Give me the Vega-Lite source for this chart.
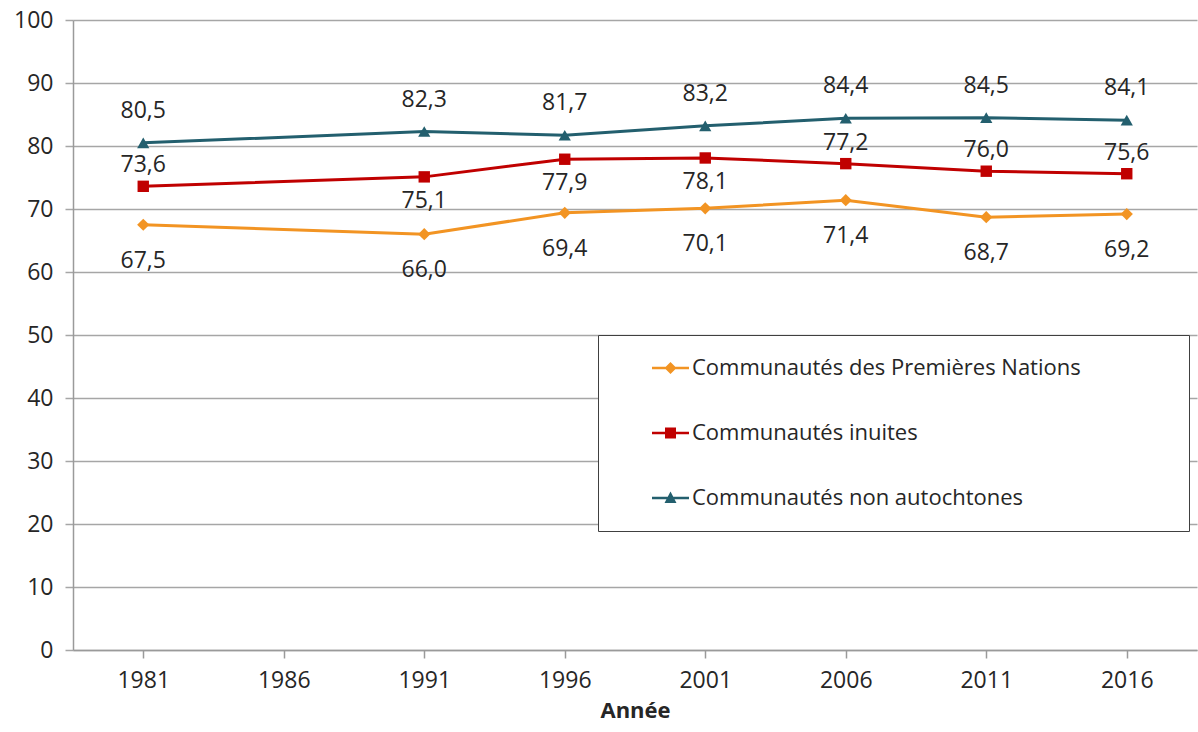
{
  "$schema": "https://vega.github.io/schema/vega-lite/v6.json",
  "width": 1124,
  "height": 630,
  "autosize": {"type": "none"},
  "padding": {"left": 73, "top": 20, "right": 1, "bottom": 82},
  "background": "white",
  "config": {
    "view": {"stroke": null},
    "font": "Open Sans",
    "locale": {"number": {"decimal": ",", "thousands": "\u00a0", "grouping": [3], "currency": ["", " €"]}}
  },
  "data": {
    "values": [
      {"year": 1981, "series": "Communautés des Premières Nations", "value": 67.5},
      {"year": 1991, "series": "Communautés des Premières Nations", "value": 66.0},
      {"year": 1996, "series": "Communautés des Premières Nations", "value": 69.4},
      {"year": 2001, "series": "Communautés des Premières Nations", "value": 70.1},
      {"year": 2006, "series": "Communautés des Premières Nations", "value": 71.4},
      {"year": 2011, "series": "Communautés des Premières Nations", "value": 68.7},
      {"year": 2016, "series": "Communautés des Premières Nations", "value": 69.2},
      {"year": 1981, "series": "Communautés inuites", "value": 73.6},
      {"year": 1991, "series": "Communautés inuites", "value": 75.1},
      {"year": 1996, "series": "Communautés inuites", "value": 77.9},
      {"year": 2001, "series": "Communautés inuites", "value": 78.1},
      {"year": 2006, "series": "Communautés inuites", "value": 77.2},
      {"year": 2011, "series": "Communautés inuites", "value": 76.0},
      {"year": 2016, "series": "Communautés inuites", "value": 75.6},
      {"year": 1981, "series": "Communautés non autochtones", "value": 80.5},
      {"year": 1991, "series": "Communautés non autochtones", "value": 82.3},
      {"year": 1996, "series": "Communautés non autochtones", "value": 81.7},
      {"year": 2001, "series": "Communautés non autochtones", "value": 83.2},
      {"year": 2006, "series": "Communautés non autochtones", "value": 84.4},
      {"year": 2011, "series": "Communautés non autochtones", "value": 84.5},
      {"year": 2016, "series": "Communautés non autochtones", "value": 84.1}
    ]
  },
  "encoding": {
    "x": {
      "field": "year", "type": "ordinal",
      "scale": {"type": "point", "padding": 0.5, "domain": [1981, 1986, 1991, 1996, 2001, 2006, 2011, 2016]},
      "axis": {
        "title": "Année", "titleFontSize": 22, "titleFontWeight": "bold", "titleColor": "#262626", "titlePadding": 8,
        "labelAngle": 0, "labelFontSize": 23, "labelColor": "#262626", "labelPadding": 11,
        "tickSize": 8, "tickColor": "#9a9a9a", "tickWidth": 1.5, "domainColor": "#9a9a9a", "domainWidth": 1.5, "grid": false
      }
    },
    "y": {
      "field": "value", "type": "quantitative",
      "scale": {"domain": [0, 100], "nice": false},
      "axis": {
        "title": null, "values": [0, 10, 20, 30, 40, 50, 60, 70, 80, 90, 100], "format": "d",
        "labelFontSize": 23, "labelColor": "#262626", "labelPadding": 12,
        "tickSize": 8, "tickColor": "#a6a6a6", "tickWidth": 1.5,
        "domainColor": "#9a9a9a", "domainWidth": 1.5,
        "grid": true, "gridColor": "#a6a6a6", "gridWidth": 1.5
      }
    },
    "color": {
      "field": "series", "type": "nominal",
      "scale": {
        "domain": ["Communautés des Premières Nations", "Communautés inuites", "Communautés non autochtones"],
        "range": ["#F29423", "#C00000", "#235F6E"]
      },
      "legend": {
        "orient": "none", "legendX": 525, "legendY": 315, "title": null,
        "strokeColor": "#404040", "fillColor": "white", "padding": 22, "rowPadding": 43,
        "labelFontSize": 22, "labelFont": "Open Sans", "labelColor": "#262626", "labelLimit": 1000,
        "symbolSize": 100, "labelOffset": 50, "symbolStrokeWidth": 0,
        "labelExpr": "datum.label + '\u00a0\u00a0\u00a0\u00a0\u00a0\u00a0\u00a0\u00a0\u00a0\u00a0\u00a0\u00a0\u00a0\u00a0\u00a0\u200b'",
        "symbolType": {"expr": "datum.value == 'Communautés des Premières Nations' ? 'M4.2,-0.27H11.6V0.27H4.2Z M7.9,-1.2L9.1,0L7.9,1.2L6.7,0Z' : datum.value == 'Communautés inuites' ? 'M4.2,-0.27H11.6V0.27H4.2Z M6.8,-1.1H9V1.1H6.8Z' : 'M4.2,-0.27H11.6V0.27H4.2Z M7.9,-1.3L9.1,1.0L6.7,1.0Z'"}
      }
    }
  },
  "layer": [
    {
      "transform": [{"filter": "datum.value < 0"}],
      "mark": {"type": "point", "filled": true, "opacity": 1, "size": 150}
    },
    {"mark": {"type": "line", "strokeWidth": 3}},
    {
      "transform": [{"filter": "datum.series == 'Communautés des Premières Nations'"}],
      "mark": {"type": "point", "filled": true, "opacity": 1, "size": 150, "shape": "diamond"}
    },
    {
      "transform": [{"filter": "datum.series == 'Communautés inuites'"}],
      "mark": {"type": "point", "filled": true, "opacity": 1, "size": 130, "shape": "square"}
    },
    {
      "transform": [{"filter": "datum.series == 'Communautés non autochtones'"}],
      "mark": {"type": "point", "filled": true, "opacity": 1, "size": 150, "shape": "triangle-up"}
    },
    {
      "transform": [{"filter": "datum.series == 'Communautés non autochtones'"}],
      "mark": {"type": "text", "dy": -32, "fontSize": 23, "baseline": "middle"},
      "encoding": {"text": {"field": "value", "type": "quantitative", "format": ".1f"}, "color": {"value": "#262626"}}
    },
    {
      "transform": [{"filter": "datum.series == 'Communautés inuites' && (datum.year == 1981 || datum.year >= 2006)"}],
      "mark": {"type": "text", "dy": -21, "fontSize": 23, "baseline": "middle"},
      "encoding": {"text": {"field": "value", "type": "quantitative", "format": ".1f"}, "color": {"value": "#262626"}}
    },
    {
      "transform": [{"filter": "datum.series == 'Communautés inuites' && datum.year > 1981 && datum.year < 2006"}],
      "mark": {"type": "text", "dy": 24, "fontSize": 23, "baseline": "middle"},
      "encoding": {"text": {"field": "value", "type": "quantitative", "format": ".1f"}, "color": {"value": "#262626"}}
    },
    {
      "transform": [{"filter": "datum.series == 'Communautés des Premières Nations'"}],
      "mark": {"type": "text", "dy": 36, "fontSize": 23, "baseline": "middle"},
      "encoding": {"text": {"field": "value", "type": "quantitative", "format": ".1f"}, "color": {"value": "#262626"}}
    }
  ]
}
